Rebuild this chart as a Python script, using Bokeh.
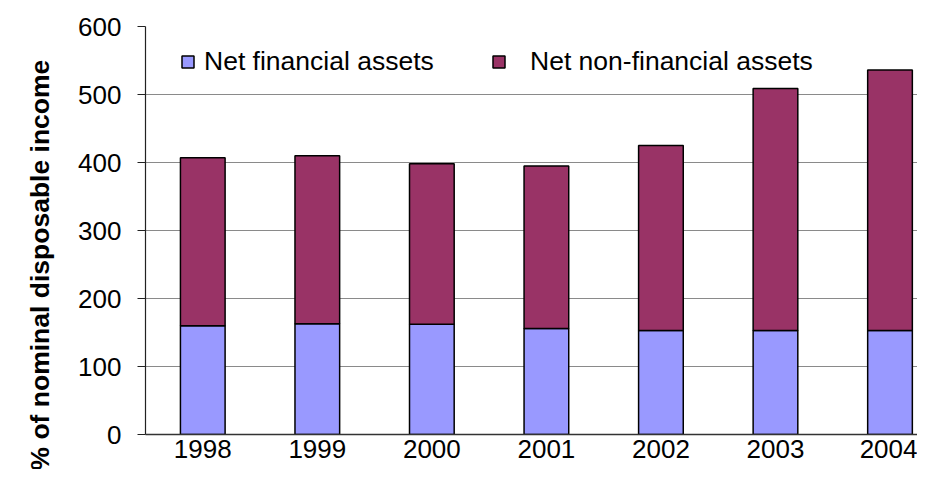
from bokeh.plotting import figure
from bokeh.models import (ColumnDataSource, Range1d, FixedTicker, Legend,
                          LegendItem, Title)
from bokeh.embed import file_html
from bokeh.resources import INLINE

years = ["1998", "1999", "2000", "2001", "2002", "2003", "2004"]
net_financial = [160, 163, 162, 156, 153, 153, 153]
net_non_financial = [247, 247, 236, 239, 272, 356, 383]
y_ticks = [0, 100, 200, 300, 400, 500, 600]

FONT = "Liberation Sans"

idx = list(range(len(years)))
source = ColumnDataSource(dict(x=idx, fin=net_financial, nonfin=net_non_financial))

p = figure(width=917, height=469, output_backend="svg", toolbar_location=None,
           x_range=Range1d(-0.5, 6.24), y_range=Range1d(0, 600),
           min_border_left=145, min_border_top=26, min_border_bottom=35,
           min_border_right=0)
p.outline_line_color = None
p.background_fill_color = "white"

renderers = p.vbar_stack(["fin", "nonfin"], x="x", width=0.39, source=source,
                         color=["#9999FF", "#993366"],
                         line_color="black", line_width=1.5)
for r in renderers:
    r.glyph.line_color = "black"

# axes
p.xaxis.ticker = FixedTicker(ticks=idx)
p.xaxis.major_label_overrides = {i: y for i, y in zip(idx, years)}
p.xaxis.major_tick_line_color = None
p.xaxis.minor_tick_line_color = None
p.xaxis.major_tick_out = 0
p.xaxis.major_tick_in = 0
p.xaxis.axis_line_color = "#333333"
p.xaxis.axis_line_width = 1.5
p.xaxis.major_label_text_font = FONT
p.xaxis.major_label_text_font_size = "26px"
p.xaxis.major_label_text_color = "black"
p.xaxis.major_label_standoff = 5

p.yaxis.ticker = FixedTicker(ticks=y_ticks)
p.yaxis.minor_tick_line_color = None
p.yaxis.major_tick_out = 8
p.yaxis.major_tick_in = 0
p.yaxis.major_tick_line_color = "#222222"
p.yaxis.axis_line_color = "#222222"
p.yaxis.axis_line_width = 1.2
p.yaxis.major_label_text_font = FONT
p.yaxis.major_label_text_font_size = "26px"
p.yaxis.major_label_text_color = "black"
p.yaxis.major_label_standoff = 16

p.xgrid.grid_line_color = None
p.ygrid.ticker = FixedTicker(ticks=y_ticks)
p.ygrid.grid_line_color = "#8a8a8a"
p.ygrid.grid_line_width = 1

# y axis title, shifted down like the original
ytitle = Title(text="% of nominal disposable income", align="left",
               offset=-36, standoff=42,
               text_font=FONT, text_font_size="26.5px", text_font_style="bold",
               text_color="black")
p.add_layout(ytitle, "left")

def make_legend(item, loc, standoff):
    return Legend(items=[item], location=loc, orientation="horizontal",
                  padding=0, margin=0, spacing=0,
                  border_line_color=None, background_fill_alpha=0,
                  glyph_width=15, glyph_height=15, label_height=15,
                  label_standoff=standoff,
                  label_text_font=FONT, label_text_font_size="26.5px",
                  label_text_color="black")

leg1 = make_legend(LegendItem(label="Net financial assets", renderers=[renderers[0]]),
                   (35, 357), 9)
leg2 = make_legend(LegendItem(label="Net non-financial assets", renderers=[renderers[1]]),
                   (346, 357), 24)
p.add_layout(leg1)
p.add_layout(leg2)

open("out.html", "w").write(file_html(p, INLINE))
